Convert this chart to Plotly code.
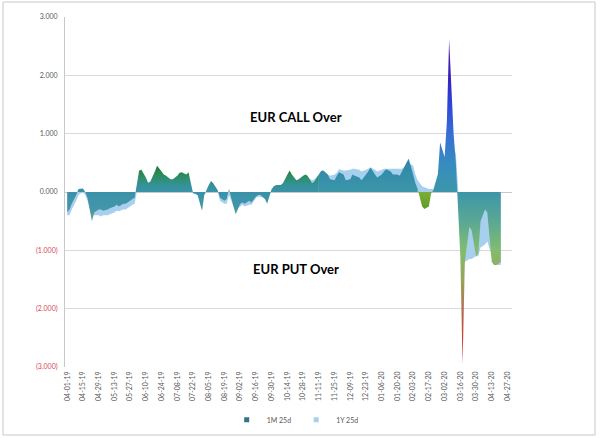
import pandas as pd
import plotly.graph_objects as go

# ---------------- data ----------------
START = "2019-04-01"
END = "2020-04-21"
# one observation every second business day
DATES = pd.bdate_range(START, END)[::2]

TICK_LABELS = ["04-01-19", "04-15-19", "04-29-19", "05-13-19", "05-27-19", "06-10-19",
               "06-24-19", "07-08-19", "07-22-19", "08-05-19", "08-19-19", "09-02-19",
               "09-16-19", "09-30-19", "10-14-19", "10-28-19", "11-11-19", "11-25-19",
               "12-09-19", "12-23-19", "01-06-20", "01-20-20", "02-03-20", "02-17-20",
               "03-02-20", "03-16-20", "03-30-20", "04-13-20", "04-27-20"]

RR_1M = [-0.35, -0.3, -0.2, -0.05, 0.05,
         0.06, 0.0, -0.1, -0.5, -0.35,
         -0.3, -0.3, -0.32, -0.3, -0.28,
         -0.25, -0.22, -0.25, -0.2, -0.2,
         -0.15, -0.12, -0.1, 0.37, 0.38,
         0.25, 0.16, 0.18, 0.35, 0.45,
         0.35, 0.3, 0.28, 0.22, 0.22,
         0.28, 0.33, 0.34, 0.3, 0.34,
         -0.02, -0.03, -0.05, -0.32, -0.05,
         0.12, 0.19, 0.15, 0.03, -0.1,
         -0.15, -0.12, 0.05, -0.25, -0.38,
         -0.2, -0.18, -0.2, -0.15, -0.18,
         -0.08, -0.05, -0.05, -0.12, -0.2,
         0.05, 0.1, 0.12, 0.12, 0.15,
         0.3, 0.37, 0.3, 0.2, 0.22,
         0.28, 0.3, 0.28, 0.15, 0.18,
         0.3, 0.36, 0.37, 0.3, 0.22,
         0.2, 0.28, 0.34, 0.3, 0.2,
         0.22, 0.3, 0.28, 0.25, 0.2,
         0.3, 0.35, 0.42, 0.3, 0.25,
         0.3, 0.35, 0.39, 0.35, 0.3,
         0.3, 0.28, 0.35, 0.5, 0.57,
         0.3, 0.15, 0.05, -0.25, -0.29,
         -0.25, -0.02, 0.03, 0.3, 0.85,
         0.6, 1.2, 2.62, 1.0, 0.5,
         -1.1, -2.95, -1.2, -0.6, -0.65,
         -1.1, -1.05, -0.5, -0.3, -0.35,
         -1.2, -1.25, -1.25, -1.2]

RR_1Y = [-0.4, -0.4, -0.3, -0.15, -0.05,
         0.0, -0.05, -0.15, -0.4, -0.4,
         -0.4, -0.42, -0.4, -0.4, -0.38,
         -0.35, -0.32, -0.33, -0.3, -0.3,
         -0.25, -0.22, -0.2, 0.2, 0.25,
         0.15, 0.1, 0.12, 0.25, 0.3,
         0.25, 0.2, 0.2, 0.15, 0.15,
         0.2, 0.22, 0.25, 0.25, 0.25,
         -0.02, -0.04, -0.05, -0.1, -0.05,
         0.05, 0.08, 0.08, 0.0, -0.15,
         -0.2, -0.2, -0.05, -0.25, -0.3,
         -0.25, -0.22, -0.25, -0.22, -0.22,
         -0.1, -0.08, -0.08, -0.1, -0.12,
         0.03, 0.06, 0.08, 0.1, 0.12,
         0.2, 0.25, 0.25, 0.2, 0.2,
         0.22, 0.25, 0.25, 0.2, 0.22,
         0.3, 0.3, 0.32, 0.3, 0.28,
         0.3, 0.33, 0.39, 0.37, 0.37,
         0.38, 0.4, 0.4, 0.38, 0.35,
         0.38, 0.4, 0.42, 0.38, 0.35,
         0.38, 0.4, 0.4, 0.4, 0.4,
         0.4, 0.4, 0.4, 0.45, 0.5,
         0.45, 0.3, 0.2, 0.1, 0.08,
         0.05, 0.05, 0.05, 0.3, 0.5,
         0.5, 0.8, 0.9, 0.8, 0.65,
         -0.5, -1.3, -1.2, -1.15, -1.15,
         -1.1, -1.1, -0.95, -0.9, -0.85,
         -1.1, -1.2, -1.25, -1.25]

Y_TICKS = [3, 2, 1, 0, -1, -2, -3]
Y_TICK_TEXT = ["3.000", "2.000", "1.000", "0.000", "(1.000)", "(2.000)", "(3.000)"]

SERIES_NAMES = ["1M 25d", "1Y 25d"]

n = min(len(DATES), len(RR_1M), len(RR_1Y))
dates = list(DATES[:n])
m1 = RR_1M[:n]
y1 = RR_1Y[:n]

# ---------------- figure ----------------
fig = go.Figure()

LIGHT_BLUE = "rgb(166,208,238)"

fig.add_trace(go.Scatter(
    x=dates, y=y1, name=SERIES_NAMES[1], mode="none", fill="tozeroy",
    fillcolor=LIGHT_BLUE, showlegend=False))

scale_a = [[0.0, "rgb(165,188,55)"], [0.10, "rgb(95,162,135)"], [0.25, "rgb(68,150,170)"],
           [0.539, "rgb(58,146,168)"], [0.657, "rgb(52,145,152)"], [0.784, "rgb(45,142,105)"],
           [0.882, "rgb(38,134,75)"], [1.0, "rgb(30,118,55)"]]
scale_b = [[0.0, "rgb(60,150,168)"], [1.0, "rgb(45,132,172)"]]
scale_c = [[0.0, "rgb(95,155,35)"], [1.0, "rgb(125,178,60)"]]
scale_d = [[0.0, "rgb(210,30,40)"], [0.0885, "rgb(200,60,50)"], [0.177, "rgb(175,115,85)"],
           [0.265, "rgb(150,165,90)"], [0.354, "rgb(130,188,110)"], [0.442, "rgb(90,168,148)"],
           [0.531, "rgb(60,150,168)"], [0.619, "rgb(55,140,192)"], [0.708, "rgb(55,110,212)"],
           [0.796, "rgb(45,70,215)"], [0.885, "rgb(55,30,190)"], [1.0, "rgb(90,30,150)"]]

segments = [(0, 81, scale_a, -0.55, 0.47),
            (80, 113, scale_b, 0.0, 0.6),
            (112, 117, scale_c, -0.3, 0.05),
            (116, n, scale_d, -3.0, 2.65)]

for a, b, cs, s0, s1 in segments:
    fig.add_trace(go.Scatter(
        x=dates[a:b], y=m1[a:b], name=SERIES_NAMES[0], mode="none", fill="tozeroy",
        fillcolor="rgb(58,146,168)",
        fillgradient=dict(type="vertical", colorscale=cs, start=s0, stop=s1),
        showlegend=False))

# legend entries (small square swatches as in the original)
fig.add_trace(go.Scatter(x=[None], y=[None], mode="markers", name=SERIES_NAMES[0],
                         marker=dict(symbol="square", size=5, color="rgb(55,115,135)")))
fig.add_trace(go.Scatter(x=[None], y=[None], mode="markers", name=SERIES_NAMES[1],
                         marker=dict(symbol="square", size=5, color=LIGHT_BLUE)))

tickvals = list(pd.to_datetime(TICK_LABELS, format="%m-%d-%y"))

FONT = "Lato, Liberation Sans, sans-serif"
fig.update_layout(
    width=600, height=438,
    margin=dict(l=65, r=88, t=17, b=71, autoexpand=False),
    paper_bgcolor="white", plot_bgcolor="white",
    font=dict(family=FONT, size=7, color="#595959"),
    legend=dict(orientation="h", traceorder="normal", x=0.515, xanchor="center",
                y=-0.151, yanchor="middle", entrywidth=0,
                font=dict(size=7, color="#595959"), itemwidth=30,
                bgcolor="rgba(0,0,0,0)"),
    xaxis=dict(type="date", range=["2019-03-30", "2020-05-01"],
               tickvals=tickvals, ticktext=TICK_LABELS, tickangle=-90,
               showgrid=False, zeroline=False, showline=False, ticks="",
               automargin=False, ticklabelstandoff=2,
               tickfont=dict(size=7, color="#595959")),
    yaxis=dict(range=[-3, 3], tickvals=Y_TICKS,
               ticktext=[t if v >= 0 else '<span style="color:#d2485a">%s</span>' % t
                         for v, t in zip(Y_TICKS, Y_TICK_TEXT)],
               showgrid=True, gridcolor="rgb(217,217,217)", gridwidth=1,
               zeroline=True, zerolinecolor="rgb(200,200,200)", zerolinewidth=1,
               showline=True, linecolor="rgb(200,200,200)", linewidth=1,
               ticks="", ticklabelstandoff=5, automargin=False,
               tickfont=dict(size=7, color="#595959")),
    showlegend=True,
)

fig.add_annotation(text="<b>EUR CALL Over</b>", xref="x", yref="y",
                   x="2019-10-22", y=1.29, showarrow=False,
                   font=dict(size=13, color="black", family=FONT))
fig.add_annotation(text="<b>EUR PUT Over</b>", xref="x", yref="y",
                   x="2019-10-22", y=-1.32, showarrow=False,
                   font=dict(size=13, color="black", family=FONT))

fig.add_shape(type="rect", xref="paper", yref="paper",
              x0=-0.1387, x1=1.1857, y0=-0.1943, y1=1.0429,
              line=dict(color="rgb(200,200,200)", width=1), layer="below")

fig.write_html("out.html", config={"displayModeBar": False},
               post_script="document.body.style.margin='0';")
